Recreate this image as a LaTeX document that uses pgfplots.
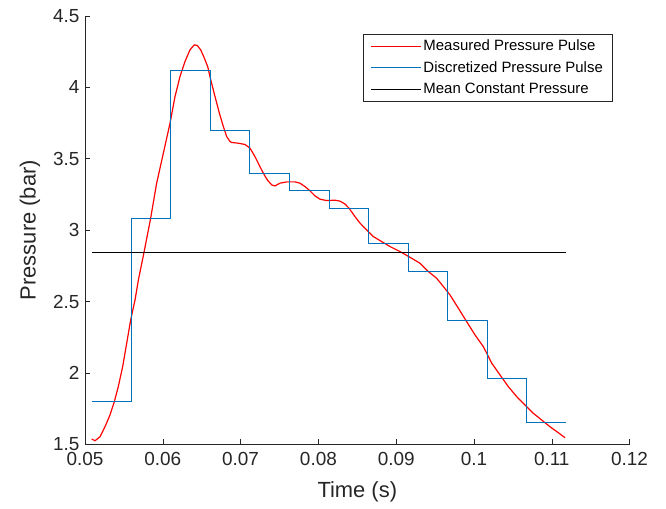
\documentclass[border=0pt]{standalone}
\usepackage{fontspec}
\setmainfont{Liberation Sans}
\usepackage{pgfplots}
\pgfplotsset{compat=1.18}
\definecolor{mblue}{rgb}{0,0.447,0.741}
\definecolor{axgray}{rgb}{0.15,0.15,0.15}
\begin{document}
\begin{tikzpicture}
\useasboundingbox (0,0) rectangle (666bp,509bp);
\begin{axis}[
  at={(85bp,64.7bp)}, anchor=south west,
  scale only axis, width=544.6bp, height=428.3bp,
  xmin=0.05, xmax=0.12, ymin=1.5, ymax=4.5,
  axis lines*=left, axis line style={-, draw=axgray, line width=0.6bp},
  tick align=inside, major tick length=5.4bp,
  tick style={axgray, line width=0.6bp},
  scaled x ticks=false, scaled y ticks=false,
  xtick={0.05,0.06,0.07,0.08,0.09,0.1,0.11,0.12},
  xticklabels={0.05,0.06,0.07,0.08,0.09,0.1,0.11,0.12},
  ytick={1.5,2,2.5,3,3.5,4,4.5},
  yticklabels={1.5,2,2.5,3,3.5,4,4.5},
  /pgf/number format/assume math mode=true,
  ticklabel style={font=\fontsize{19}{19}\selectfont, text=axgray, inner sep=1.5bp},
  xticklabel style={yshift=-5.8bp},
  yticklabel style={xshift=-3.8bp},
  xlabel={Time (s)}, ylabel={Pressure (bar)},
  label style={font=\fontsize{22}{22}\selectfont, text=axgray},
  xlabel style={at={(axis description cs:0.5,-0.112)}, anchor=center},
  ylabel style={at={(axis description cs:-0.101,0.5)}, anchor=center, rotate=0},
  legend style={at={(0.968,0.958)}, anchor=north east, draw=axgray, line width=0.6bp,
    font=\fontsize{15}{15}\selectfont, inner xsep=7bp, inner ysep=3.5bp,
    row sep=5.5bp, nodes={inner sep=2bp}},
  legend cell align=left,
  legend image code/.code={\draw[#1, line width=0.7bp] (0bp,0bp) -- (50bp,0bp);},
]
\addplot[red, line width=1.2bp] coordinates {
(0.05086,1.537) (0.05129,1.525) (0.05193,1.553) (0.05257,1.623) (0.05321,1.705)
(0.05377,1.799) (0.05428,1.904) (0.05484,2.044) (0.05536,2.208) (0.05587,2.371)
(0.05643,2.511) (0.05686,2.651) (0.05758,2.843) (0.05844,3.084) (0.05921,3.329)
(0.06007,3.539) (0.06093,3.749) (0.06157,3.936) (0.06221,4.076) (0.06285,4.181)
(0.0635,4.263) (0.06405,4.298) (0.06444,4.293) (0.06487,4.263) (0.06534,4.205)
(0.06577,4.146) (0.06616,4.053) (0.06671,3.936) (0.06727,3.820) (0.06778,3.726)
(0.06821,3.656) (0.06864,3.621) (0.06886,3.614) (0.06971,3.609) (0.07057,3.600)
(0.07121,3.574) (0.07185,3.515) (0.07249,3.445) (0.07292,3.399) (0.07343,3.352)
(0.074,3.317) (0.07442,3.310) (0.07506,3.329) (0.07593,3.338) (0.07699,3.338)
(0.07763,3.329) (0.07828,3.305) (0.07892,3.275) (0.07956,3.240) (0.0802,3.217)
(0.08107,3.207) (0.08213,3.210) (0.08278,3.203) (0.08342,3.183) (0.08393,3.154)
(0.0847,3.095) (0.08535,3.049) (0.0862,3.002) (0.08706,2.955) (0.08813,2.920)
(0.0892,2.885) (0.09049,2.850) (0.09177,2.810) (0.09306,2.768) (0.09413,2.710)
(0.0952,2.663) (0.09606,2.605) (0.09692,2.546) (0.09799,2.453) (0.09906,2.359)
(0.10013,2.266) (0.1012,2.184) (0.10228,2.068) (0.10334,1.986) (0.10441,1.904)
(0.10549,1.834) (0.10656,1.775) (0.10763,1.717) (0.1087,1.670) (0.10977,1.623)
(0.11084,1.581) (0.1117,1.546)
};
\addlegendentry{Measured Pressure Pulse}
\addplot[mblue, line width=0.8bp, const plot] coordinates {
(0.05086,1.80) (0.05594,3.08) (0.06102,4.12) (0.06610,3.70) (0.07118,3.40)
(0.07627,3.28) (0.08135,3.15) (0.08643,2.91) (0.09151,2.71) (0.09659,2.37)
(0.10167,1.96) (0.10675,1.65) (0.11183,1.65)
};
\addlegendentry{Discretized Pressure Pulse}
\addplot[black, line width=0.8bp] coordinates {(0.05086,2.845) (0.1118,2.845)};
\addlegendentry{Mean Constant Pressure}
\end{axis}
\end{tikzpicture}
\end{document}
